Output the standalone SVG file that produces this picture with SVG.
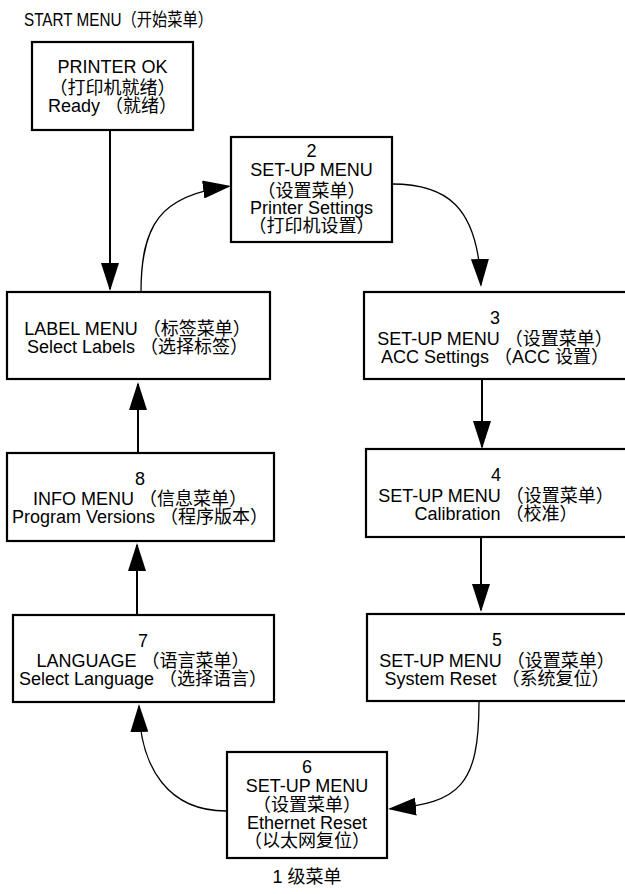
<svg xmlns="http://www.w3.org/2000/svg" width="625" height="894" viewBox="0 0 625 894">
<style>
  .box { fill: #ffffff; stroke: #000000; stroke-width: 2.2; }
  .t { font-family: "Liberation Sans", Arial, "Noto Sans CJK SC", sans-serif; font-size: 18px; fill: #000000; text-anchor: middle; }
  .ln { fill: none; stroke: #000000; stroke-width: 2; marker-end: url(#ah); }
  .cv { fill: none; stroke: #000000; stroke-width: 1.3; marker-end: url(#ah); }
</style>
<defs>
  <marker id="ah" viewBox="0 0 28 18" refX="26" refY="9" markerWidth="28" markerHeight="18" markerUnits="userSpaceOnUse" orient="auto">
    <path d="M0,0 L28,9 L0,18 z" fill="#000000"/>
  </marker>
</defs>
<rect width="625" height="894" fill="#ffffff"/>
<text x="24" y="26" font-family="Liberation Sans, Arial, Noto Sans CJK SC, sans-serif" font-size="18" textLength="189" lengthAdjust="spacingAndGlyphs">START MENU（开始菜单）</text>

<g id="connectors">
  <path class="ln" d="M110,130 L110,289"/>
  <path class="cv" d="M141,292 C141,225 160,195 229,186.3"/>
  <path class="cv" d="M392,184 C445,184 478,205 480.9,285"/>
  <path class="ln" d="M482,379 L482,447"/>
  <path class="ln" d="M481,537 L481,610"/>
  <path class="cv" d="M479,702 C479,785 460,803 390,808.8"/>
  <path class="cv" d="M226,811 C170,811 140,770 139,706"/>
  <path class="ln" d="M137,615 L137,545"/>
  <path class="ln" d="M138,453 L138,384"/>
</g>

<g id="node1">
  <rect class="box" x="32" y="42" width="161" height="88"/>
  <text class="t" x="112.5" y="73">PRINTER OK</text>
  <text class="t" x="112.5" y="94">（打印机就绪）</text>
  <text class="t" x="112.5" y="112">Ready （就绪）</text>
</g>
<g id="node2">
  <rect class="box" x="231" y="137" width="161" height="105"/>
  <text class="t" x="311.5" y="157">2</text>
  <text class="t" x="311.5" y="176">SET-UP MENU</text>
  <text class="t" x="311.5" y="197">（设置菜单）</text>
  <text class="t" x="311.5" y="214">Printer Settings</text>
  <text class="t" x="311.5" y="232">（打印机设置）</text>
</g>
<g id="node-label">
  <rect class="box" x="7" y="292" width="263" height="87"/>
  <text class="t" x="137.5" y="335">LABEL MENU （标签菜单）</text>
  <text class="t" x="137.5" y="353">Select Labels （选择标签）</text>
</g>
<g id="node3">
  <rect class="box" x="364" y="292" width="263" height="87"/>
  <text class="t" x="495" y="324">3</text>
  <text class="t" x="495" y="345">SET-UP MENU （设置菜单）</text>
  <text class="t" x="495" y="363">ACC Settings （ACC 设置）</text>
</g>
<g id="node8">
  <rect class="box" x="7" y="453" width="267" height="88"/>
  <text class="t" x="140" y="485">8</text>
  <text class="t" x="140" y="505">INFO MENU （信息菜单）</text>
  <text class="t" x="140" y="523">Program Versions （程序版本）</text>
</g>
<g id="node4">
  <rect class="box" x="366" y="449" width="263" height="88"/>
  <text class="t" x="496" y="481">4</text>
  <text class="t" x="496" y="502">SET-UP MENU （设置菜单）</text>
  <text class="t" x="496" y="520">Calibration （校准）</text>
</g>
<g id="node7">
  <rect class="box" x="13" y="615" width="261" height="87"/>
  <text class="t" x="143" y="647">7</text>
  <text class="t" x="143" y="667">LANGUAGE （语言菜单）</text>
  <text class="t" x="143" y="685">Select Language （选择语言）</text>
</g>
<g id="node5">
  <rect class="box" x="367" y="614" width="262" height="87"/>
  <text class="t" x="497" y="646">5</text>
  <text class="t" x="497" y="667">SET-UP MENU （设置菜单）</text>
  <text class="t" x="497" y="685">System Reset （系统复位）</text>
</g>
<g id="node6">
  <rect class="box" x="227" y="752" width="160" height="106"/>
  <text class="t" x="307" y="773">6</text>
  <text class="t" x="307" y="792">SET-UP MENU</text>
  <text class="t" x="307" y="811">（设置菜单）</text>
  <text class="t" x="307" y="829">Ethernet Reset</text>
  <text class="t" x="307" y="847">（以太网复位）</text>
</g>
<text class="t" x="307" y="883">1 级菜单</text>
</svg>
